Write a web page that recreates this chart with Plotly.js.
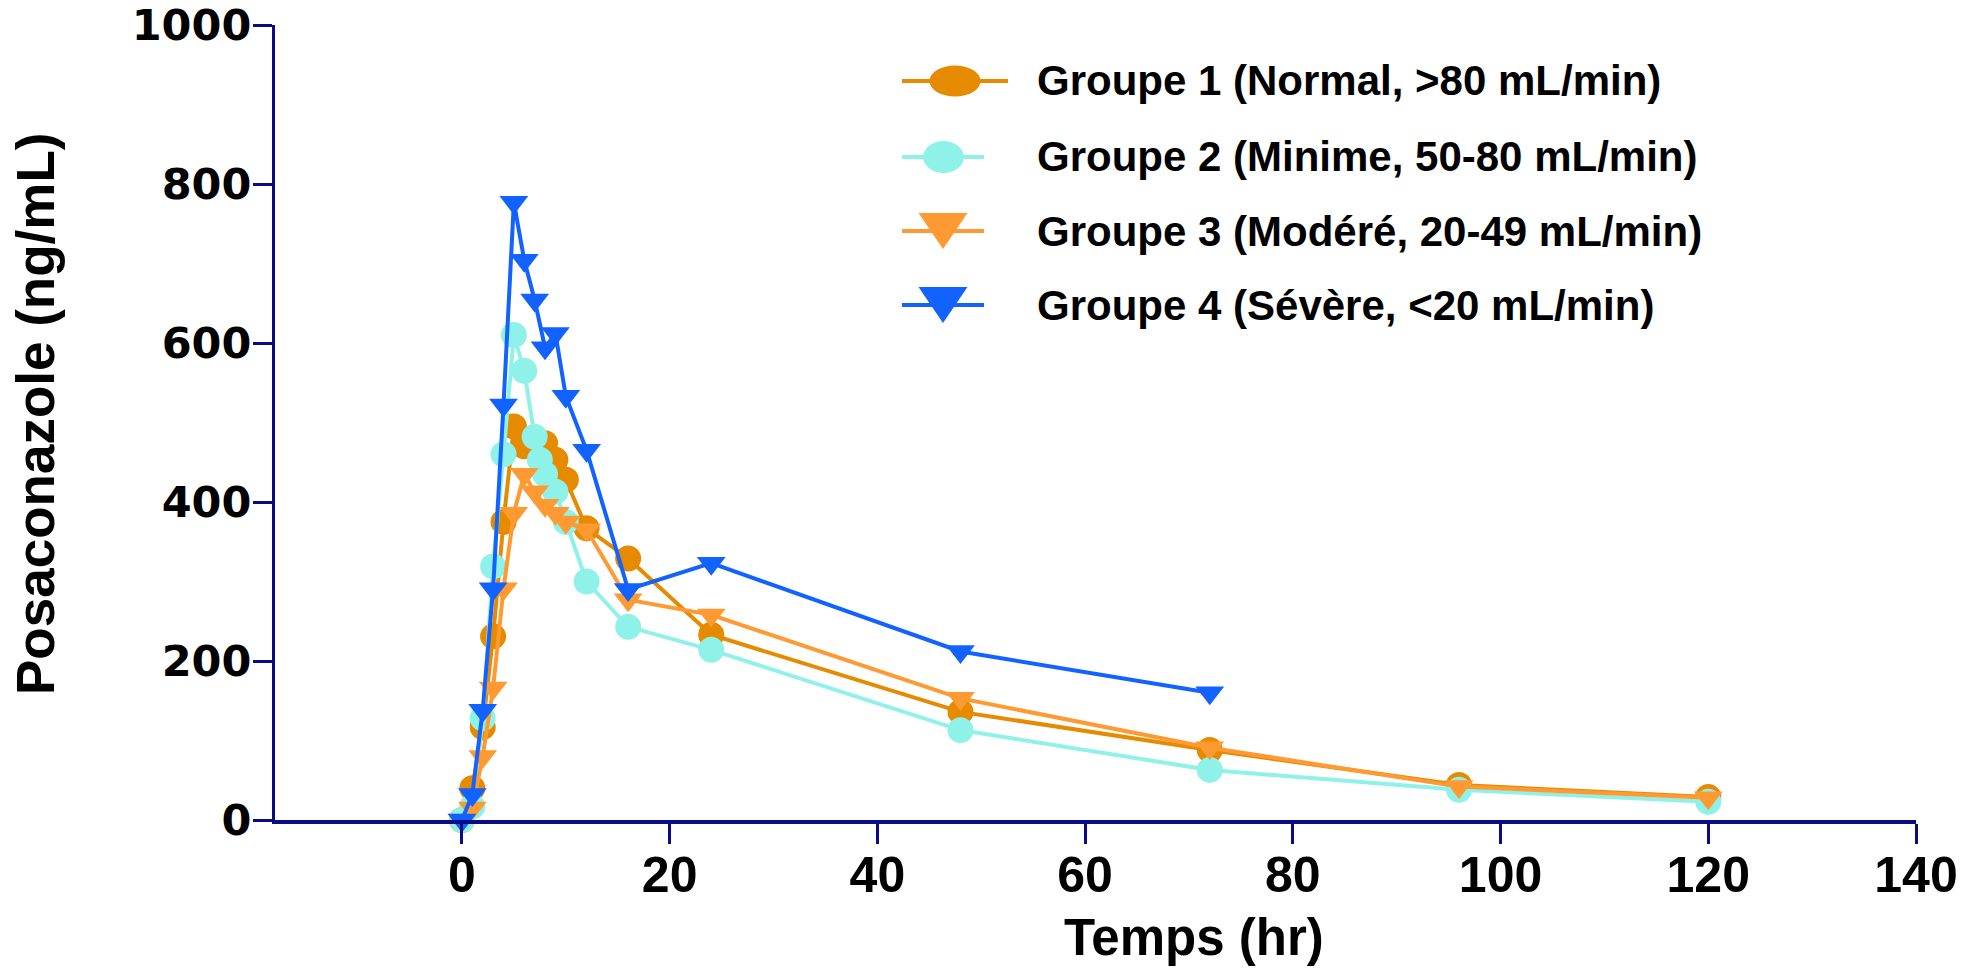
<!DOCTYPE html>
<html>
<head>
<meta charset="utf-8">
<script src="https://cdn.plot.ly/plotly-3.0.1.min.js"></script>
<style>
  html, body { margin: 0; padding: 0; background: #ffffff; }
  #chart { width: 1970px; height: 970px; }
</style>
</head>
<body>
<div id="chart"></div>
<script>
// ---- Data ----
const seriesNames = [
  'Groupe 1 (Normal, >80 mL/min)',
  'Groupe 2 (Minime, 50-80 mL/min)',
  'Groupe 3 (Modéré, 20-49 mL/min)',
  'Groupe 4 (Sévère, <20 mL/min)'
];

const timeG1 = [0, 1, 2, 3, 4, 5, 6, 7, 8, 9, 10, 12, 16, 24, 48, 72, 96, 120];
const concG1 = [0, 40, 117, 231, 375, 495, 470, 480, 474, 453, 428, 367, 329, 233, 136, 88, 44, 29];

const timeG2 = [0, 1, 2, 3, 4, 5, 6, 7, 7.5, 8, 9, 10, 12, 16, 24, 48, 72, 96, 120];
const concG2 = [0, 17, 128, 319, 460, 610, 565, 482, 453, 435, 413, 375, 300, 243, 214, 113, 63, 38, 23];

const timeG3 = [0, 1, 2, 3, 4, 5, 6, 7, 8, 9, 10, 12, 16, 24, 48, 72, 96, 120];
const concG3 = [0, 15, 80, 166, 291, 386, 435, 413, 396, 386, 375, 365, 277, 258, 153, 91, 42, 28];

const timeG4 = [0, 1, 2, 3, 4, 5, 6, 7, 8, 9, 10, 12, 16, 24, 48, 72];
const concG4 = [0, 32, 138, 291, 522, 777, 704, 654, 594, 612, 533, 465, 290, 323, 212, 160];

const xTickVals = [0, 20, 40, 60, 80, 100, 120, 140];
const xTickText = ['0', '20', '40', '60', '80', '100', '120', '140'];
const yTickVals = [0, 200, 400, 600, 800, 1000];
const yTickText = ['0', '200', '400', '600', '800', '1000'];

const xTitle = 'Temps (hr)';
const yTitle = 'Posaconazole (ng/mL)';

// ---- Styling ----
const colors = ['#E68A00', '#8EF2E9', '#FF9A33', '#1262FF'];
const symbols = ['circle', 'circle', 'triangle-down', 'triangle-down'];
const msizes = [26, 26, 25, 25];
const axisColor = '#0B0B85';
const FONT = 'Liberation Sans, Arial, Helvetica, sans-serif';
const WIDEFONT = 'DejaVu Sans, Verdana, sans-serif';

const W0 = 1970, H0 = 970;
const L = 275, R = 1916, T = 25, B = 820;
const PW = R - L, PH = B - T;
const px = x => (x - L) / PW;
const py = y => (B - y) / PH;

const times = [timeG1, timeG2, timeG3, timeG4];
const concs = [concG1, concG2, concG3, concG4];

const traces = times.map((t, i) => ({
  type: 'scatter',
  mode: 'lines+markers',
  name: seriesNames[i],
  x: t,
  y: concs[i],
  cliponaxis: false,
  line: { color: colors[i], width: 4 },
  marker: { color: colors[i], symbol: symbols[i], size: msizes[i], line: { width: 0 } },
  showlegend: false,
  hoverinfo: 'x+y+name'
}));

// ---- Custom legend (large symbols as in the reference) ----
const legendRows = [
  { y: 81,  lx0: 902, lx1: 1008, cx: 955,   w: 51, h: 31, kind: 'ellipse' },
  { y: 157, lx0: 902, lx1: 984,  cx: 943.5, w: 41, h: 32, kind: 'ellipse' },
  { y: 231, lx0: 902, lx1: 984,  cx: 943,   w: 49, h: 36, kind: 'triangle' },
  { y: 305, lx0: 902, lx1: 984,  cx: 943,   w: 49, h: 36, kind: 'triangle' }
];
const legendTextX = 1035;

const shapes = [];
const annotations = [];
legendRows.forEach((r, i) => {
  shapes.push({
    type: 'line', xref: 'paper', yref: 'paper',
    x0: px(r.lx0), x1: px(r.lx1), y0: py(r.y), y1: py(r.y),
    line: { color: colors[i], width: 4 }
  });
  if (r.kind === 'ellipse') {
    shapes.push({
      type: 'circle', xref: 'paper', yref: 'paper',
      x0: px(r.cx - r.w / 2), x1: px(r.cx + r.w / 2),
      y0: py(r.y + r.h / 2), y1: py(r.y - r.h / 2),
      fillcolor: colors[i], line: { width: 0 }
    });
  } else {
    const top = r.y - r.h / 2, bot = r.y + r.h / 2;
    const p = 'M ' + px(r.cx - r.w / 2) + ' ' + py(top) +
              ' L ' + px(r.cx + r.w / 2) + ' ' + py(top) +
              ' L ' + px(r.cx) + ' ' + py(bot) + ' Z';
    shapes.push({
      type: 'path', xref: 'paper', yref: 'paper', path: p,
      fillcolor: colors[i], line: { width: 0 }
    });
  }
  annotations.push({
    xref: 'paper', yref: 'paper', x: px(legendTextX), y: py(r.y),
    xanchor: 'left', yanchor: 'middle', showarrow: false,
    text: seriesNames[i],
    font: { family: FONT, size: 42, color: '#000000', weight: 'bold' }
  });
});

// axis titles
annotations.push({
  xref: 'paper', yref: 'paper', x: px(1194), y: py(937),
  xanchor: 'center', yanchor: 'middle', showarrow: false,
  text: xTitle,
  font: { family: FONT, size: 51, color: '#000000', weight: 'bold' }
});
annotations.push({
  xref: 'paper', yref: 'paper', x: px(35), y: py(414),
  xanchor: 'center', yanchor: 'middle', showarrow: false, textangle: -90,
  text: yTitle,
  font: { family: FONT, size: 53, color: '#000000', weight: 'bold' }
});

const layout = {
  width: W0, height: H0,
  margin: { l: L, r: W0 - R, t: T, b: H0 - B, pad: 0 },
  paper_bgcolor: '#ffffff', plot_bgcolor: '#ffffff',
  showlegend: false,
  font: { family: FONT, color: '#000000' },
  xaxis: {
    range: [-18, 140], tickmode: 'array', tickvals: xTickVals, ticktext: xTickText,
    showgrid: false, zeroline: false,
    showline: true, linecolor: axisColor, linewidth: 4,
    ticks: 'outside', ticklen: 20, tickwidth: 3, tickcolor: axisColor,
    tickfont: { family: FONT, size: 50, color: '#000000', weight: 'bold' },
    ticklabelstandoff: -12,
    ticklabeloverflow: 'allow'
  },
  yaxis: {
    range: [0, 1000], tickmode: 'array', tickvals: yTickVals, ticktext: yTickText,
    showgrid: false, zeroline: false,
    showline: true, linecolor: axisColor, linewidth: 3,
    ticks: 'outside', ticklen: 19, tickwidth: 3, tickcolor: axisColor,
    tickfont: { family: WIDEFONT, size: 43, color: '#000000', weight: 'bold' },
    ticklabelstandoff: -7,
    ticklabeloverflow: 'allow'
  },
  shapes: shapes,
  annotations: annotations
};

Plotly.newPlot('chart', traces, layout, { displayModeBar: false, staticPlot: true });
</script>
</body>
</html>
